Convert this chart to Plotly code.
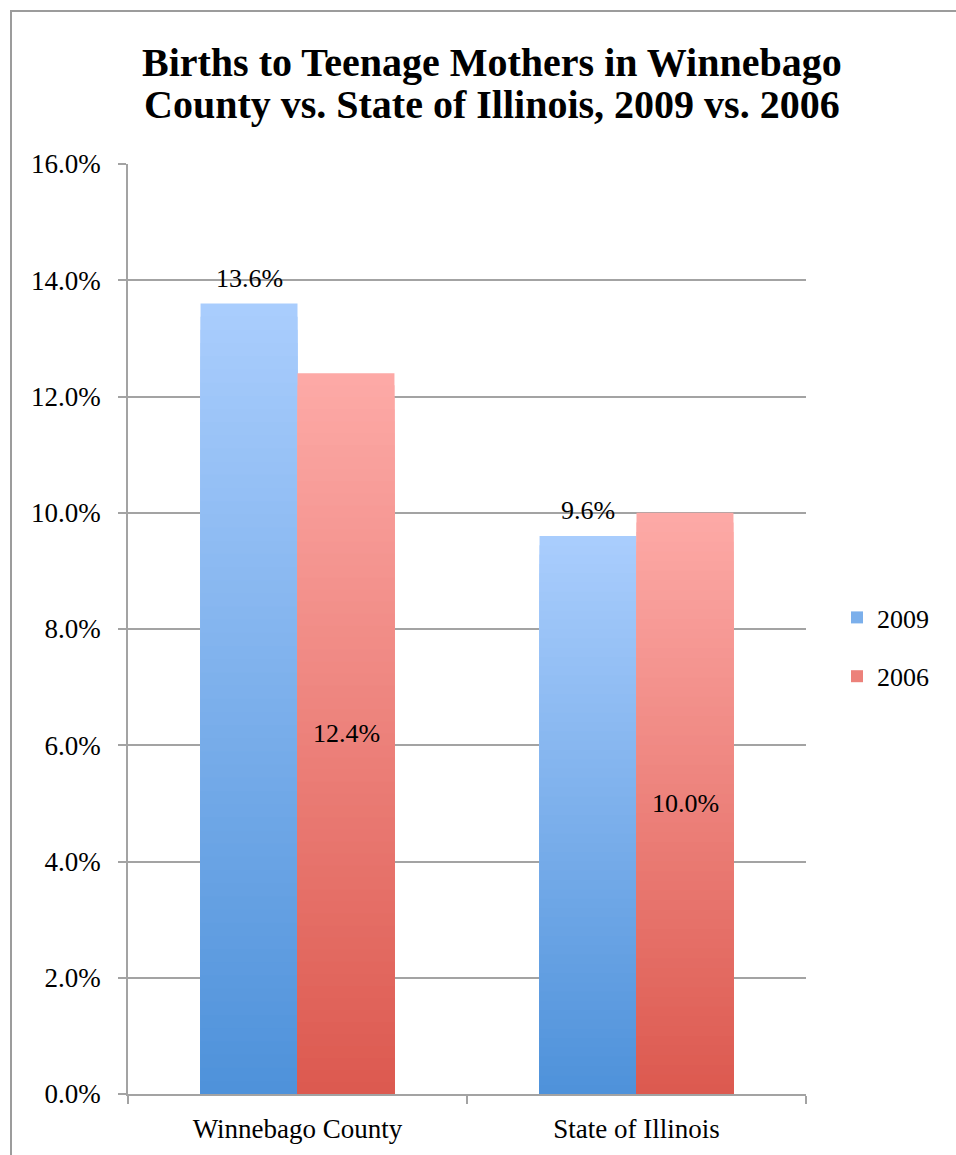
import plotly.graph_objects as go

# Share of births to teenage mothers
categories = ["Winnebago County", "State of Illinois"]
series_names = ["2009", "2006"]
values_2009 = [0.136, 0.096]
values_2006 = [0.124, 0.100]
y_ticks = [0.0, 0.02, 0.04, 0.06, 0.08, 0.10, 0.12, 0.14, 0.16]
title_lines = ["Births to Teenage Mothers in Winnebago",
               "County vs. State of Illinois, 2009 vs. 2006"]

FONT = "Liberation Serif"
N_BANDS = 60          # vertical colour bands used to shade each bar
BAR_W = 0.286         # bar width in category units
GRID = "#a3a3a3"

# bottom / top colour of the vertical shading for each series
shades = {
    "2009": ((78, 146, 218), (170, 205, 253)),
    "2006": ((220, 89, 79), (253, 170, 167)),
}


def mix(c0, c1, t):
    return "rgb(%d,%d,%d)" % tuple(round(a + (b - a) * t) for a, b in zip(c0, c1))


fig = go.Figure()

series = [("2009", values_2009, -BAR_W), ("2006", values_2006, 0.0)]
for name, vals, off in series:
    lo, hi = shades[name]
    # tallest band first, each shorter (darker) bar drawn on top of it
    for k in range(N_BANDS):
        frac = (N_BANDS - k) / N_BANDS
        t = (N_BANDS - k - 0.5) / N_BANDS
        fig.add_trace(go.Bar(
            x=categories,
            y=[v * frac for v in vals],
            name=name,
            legendgroup=name,
            showlegend=(k == N_BANDS // 2),
            width=BAR_W,
            offset=off,
            marker=dict(color=mix(lo, hi, t), line=dict(width=0)),
            hoverinfo="skip",
        ))

L, R, T, B = 128, 150, 164, 61
W, H = 956, 1155
pw, ph = W - L - R, H - T - B


def px_y(py):
    """Pixel row (from top of page) -> paper y."""
    return ((H - B) - py) / ph


def px_x(px):
    """Pixel column -> paper x."""
    return (px - L) / pw


# value labels: 2009 above the bar, 2006 in the middle of the bar
label_font = dict(family=FONT, size=26, color="black")
for i, cat in enumerate(categories):
    fig.add_annotation(x=cat, y=values_2009[i], text=f"{values_2009[i]*100:.1f}%",
                       xshift=-48.5, yshift=9, yanchor="bottom", showarrow=False,
                       font=label_font)
    fig.add_annotation(x=cat, y=values_2006[i] / 2, text=f"{values_2006[i]*100:.1f}%",
                       xshift=48.5, yanchor="middle", showarrow=False,
                       font=label_font)

# two-line chart title
for line, py in zip(title_lines, (62, 105)):
    fig.add_annotation(xref="paper", yref="paper", x=px_x(492), y=px_y(py),
                       xanchor="center", yanchor="middle", showarrow=False,
                       text=f"<b>{line}</b>",
                       font=dict(family=FONT, size=40, color="black"))

# chart frame (open to the right and bottom edges of the page)
fig.add_shape(type="rect", xref="paper", yref="paper",
              x0=px_x(11), x1=px_x(1200),
              y0=px_y(1300), y1=px_y(11),
              line=dict(color="#9c9c9c", width=2), fillcolor="rgba(0,0,0,0)",
              layer="below")

fig.update_layout(
    width=W, height=H,
    margin=dict(l=L, r=R, t=T, b=B),
    paper_bgcolor="white", plot_bgcolor="white",
    barmode="overlay",
    font=dict(family=FONT, size=26, color="black"),
    legend=dict(
        x=px_x(837), xanchor="left",
        y=px_y(647), yanchor="middle",
        font=dict(family=FONT, size=26, color="black"),
        tracegroupgap=22, bgcolor="rgba(0,0,0,0)",
    ),
    showlegend=True,
)

fig.update_yaxes(
    range=[0, 0.16], tickvals=y_ticks, tickformat=".1%",
    showgrid=True, gridcolor=GRID, gridwidth=1.5,
    showline=True, linecolor=GRID, linewidth=1.5,
    ticks="outside", ticklen=8, tickcolor=GRID, tickwidth=1.5,
    ticklabelstandoff=12, zeroline=False,
    tickfont=dict(family=FONT, size=27, color="black"),
)
fig.update_xaxes(
    showline=True, linecolor=GRID, linewidth=1.5,
    ticks="outside", ticklen=8, tickcolor=GRID, tickwidth=1.5,
    tickson="boundaries", showgrid=False,
    ticklabelstandoff=10,
    tickfont=dict(family=FONT, size=27, color="black"),
)

fig.write_html("out.html")
